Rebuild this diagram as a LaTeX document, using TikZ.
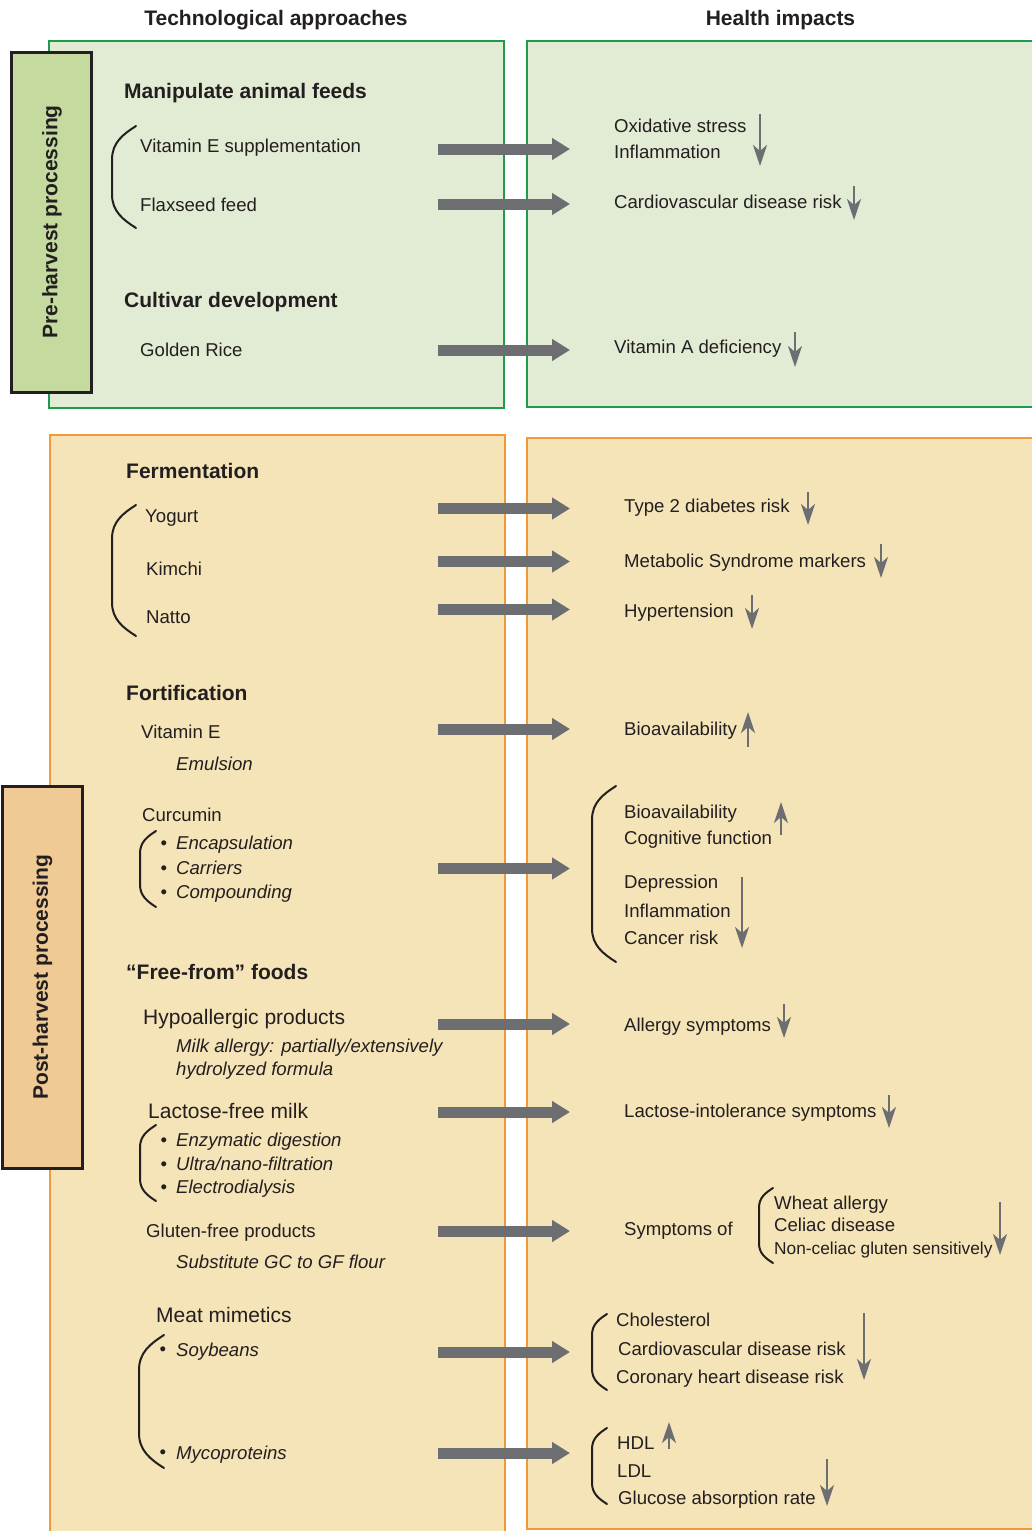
\documentclass[tikz,border=0pt]{standalone}
\usepackage{fontspec}
\setmainfont{Liberation Sans}
\usetikzlibrary{arrows.meta}
\definecolor{gfill}{HTML}{E2EBD3}
\definecolor{gline}{HTML}{1E9B4B}
\definecolor{glab}{HTML}{C5DA9F}
\definecolor{ofill}{HTML}{F4E4B7}
\definecolor{oline}{HTML}{F29A3A}
\definecolor{olab}{HTML}{EFCA95}
\definecolor{agray}{HTML}{6D6E71}
\definecolor{ink}{HTML}{231F20}
\newcommand{\paren}[4]{%
  \pgfmathsetmacro{\pwid}{#1-#2}%
  \pgfmathsetmacro{\pcur}{min(1.4*\pwid,(#4-#3)/2)}%
  \draw[brc] (#1,#3) .. controls ({#1-0.55*\pwid},{#3+0.25*\pcur}) and (#2,{#3+0.5*\pcur}) .. (#2,{#3+\pcur})
    -- (#2,{#4-\pcur}) .. controls (#2,{#4-0.5*\pcur}) and ({#1-0.55*\pwid},{#4-0.25*\pcur}) .. (#1,#4);}
\begin{document}
\begin{tikzpicture}[x=1pt,y=-1pt,
  txt/.style={inner sep=0pt, anchor=west, text height=13.3pt, text depth=0pt,
    font=\fontsize{18.6}{22}\selectfont, text=ink},
  itx/.style={txt, font=\fontsize{18.6}{22}\selectfont\itshape},
  smt/.style={txt, text height=12.4pt, font=\fontsize{17.3}{21}\selectfont},
  bigt/.style={txt, text height=15pt, font=\fontsize{21}{25}\selectfont},
  hd/.style={txt, text height=15pt, font=\fontsize{21}{25}\selectfont\bfseries},
  bul/.style={txt, anchor=center, text height=13.3pt},
  vlab/.style={rotate=90, inner sep=0pt, font=\fontsize{21}{25}\selectfont\bfseries, text=ink},
  gbox/.style={draw=gline, fill=gfill, line width=2pt},
  obox/.style={draw=oline, fill=ofill, line width=2pt},
  labbox/.style={draw=ink, line width=3pt},
  bigarrow/.style={draw=agray, line width=11pt, -{Triangle[length=18pt,width=21pt]}},
  sarrow/.style={draw=agray, line width=2.7pt, -{Stealth[length=21pt,width=14pt,inset=6pt]}},
  brc/.style={draw=ink, line width=2pt, line cap=round},
]
\useasboundingbox (0,0) rectangle (1032,1531);
\clip (0,0) rectangle (1032,1531);

% ---------- boxes ----------
\path[gbox] (49,41) rectangle (504,407.5);
\path[gbox] (527,41) rectangle (1045,407);
\path[obox] (50,435) rectangle (505,1545);
\path[obox] (527,438) rectangle (1045,1529);
\path[labbox, fill=glab] (11,52) rectangle (91,392);
\path[labbox, fill=olab] (2,786) rectangle (82,1168);
\node[vlab] (pre) at (52,222) {Pre-harvest processing};
\node[vlab] (post) at (42.5,977) {Post-harvest processing};

% ---------- headers ----------
\node[hd, anchor=center] (h1) at (276,18) {Technological approaches};
\node[hd, anchor=center] (h2) at (780.5,18) {Health impacts};

% ---------- big arrows ----------
\foreach \i/\yy in {1/149,2/204,3/350,4/508.5,5/561.5,6/609.5,7/729,8/868.5,9/1024,10/1112,11/1231,12/1352,13/1453}{
  \coordinate (s\i) at (438,\yy);
  \coordinate (e\i) at (570,\yy);
  \draw[bigarrow] (s\i) -- (e\i);
}

% ---------- braces ----------
\paren{136}{112}{126}{228}
\paren{136}{112}{505}{636}
\paren{616}{592}{786}{962}
\paren{156}{140}{831}{907}
\paren{156}{140}{1125}{1201}
\paren{164}{139}{1335}{1468}
\paren{773}{759}{1188}{1263}
\paren{607}{592}{1314}{1390}
\paren{607}{592}{1428}{1504}

% ---------- pre-harvest: left ----------
\node[hd] (maf) at (124,91) {Manipulate animal feeds};
\node[txt] (vite) at (140,146) {Vitamin E supplementation};
\node[txt] (flax) at (140,205) {Flaxseed feed};
\node[hd] (cult) at (124,300) {Cultivar development};
\node[txt] (gold) at (140,349.5) {Golden Rice};

% ---------- pre-harvest: right ----------
\node[txt] (oxs) at (614,126) {Oxidative stress};
\node[txt] (infl1) at (614,152) {Inflammation};
\node[txt] (cvd1) at (614,202) {Cardiovascular disease risk};
\node[txt] (vad) at (614,347) {Vitamin A deficiency};
\draw[sarrow] (760,114) -- (760,166);
\draw[sarrow] (854,186) -- (854,220);
\draw[sarrow] (795,332) -- (795,367);

% ---------- post-harvest: left ----------
\node[hd] (ferm) at (126,471) {Fermentation};
\node[txt] (yog) at (145,516) {Yogurt};
\node[txt] (kim) at (146,569) {Kimchi};
\node[txt] (nat) at (146,617) {Natto};
\node[hd] (fort) at (126,693) {Fortification};
\node[txt] (vite2) at (141,732) {Vitamin E};
\node[itx] (emul) at (176,764) {Emulsion};
\node[txt] (curc) at (142,815) {Curcumin};
\node[bul] (b1) at (164,843) {•};
\node[itx] (enc) at (176,843) {Encapsulation};
\node[bul] (b2) at (164,868) {•};
\node[itx] (car) at (176,868) {Carriers};
\node[bul] (b3) at (164,892) {•};
\node[itx] (comp) at (176,892) {Compounding};
\node[hd] (ff) at (126,972) {“Free-from” foods};
\node[bigt] (hypo) at (143,1017) {Hypoallergic products};
\node[itx] (milk) at (176,1046) {Milk allergy: partially/extensively};
\node[itx] (hydr) at (176,1069) {hydrolyzed formula};
\node[bigt] (lfm) at (148,1111) {Lactose-free milk};
\node[bul] (b4) at (164,1140) {•};
\node[itx] (enz) at (176,1140) {Enzymatic digestion};
\node[bul] (b5) at (164,1164) {•};
\node[itx] (ultra) at (176,1164) {Ultra/nano-filtration};
\node[bul] (b6) at (164,1187) {•};
\node[itx] (elec) at (176,1187) {Electrodialysis};
\node[txt] (glut) at (146,1231) {Gluten-free products};
\node[itx] (subs) at (176,1262) {Substitute GC to GF flour};
\node[bigt] (meat) at (156,1315) {Meat mimetics};
\node[bul] (b7) at (163,1349) {•};
\node[itx] (soy) at (176,1350) {Soybeans};
\node[bul] (b8) at (163,1452) {•};
\node[itx] (myco) at (176,1453) {Mycoproteins};

% ---------- post-harvest: right ----------
\node[txt] (t2d) at (624,506) {Type 2 diabetes risk};
\draw[sarrow] (808,492) -- (808,525);
\node[txt] (mets) at (624,561) {Metabolic Syndrome markers};
\draw[sarrow] (881,544) -- (881,578);
\node[txt] (hyp) at (624,611) {Hypertension};
\draw[sarrow] (752,595) -- (752,629);
\node[txt] (bio1) at (624,729) {Bioavailability};
\draw[sarrow] (748,747) -- (748,712);
\node[txt] (bio2) at (624,812) {Bioavailability};
\node[txt] (cog) at (624,838) {Cognitive function};
\draw[sarrow] (781,835) -- (781,802);
\node[txt] (dep) at (624,882) {Depression};
\node[txt] (infl2) at (624,911) {Inflammation};
\node[txt] (canc) at (624,938) {Cancer risk};
\draw[sarrow] (742,877) -- (742,948);
\node[txt] (allg) at (624,1025) {Allergy symptoms};
\draw[sarrow] (784,1004) -- (784,1038);
\node[txt] (lis) at (624,1111) {Lactose-intolerance symptoms};
\draw[sarrow] (889,1095) -- (889,1128);
\node[txt] (symp) at (624,1229) {Symptoms of};
\node[txt] (wheat) at (774,1203) {Wheat allergy};
\node[txt] (celiac) at (774,1225) {Celiac disease};
\node[smt] (ncgs) at (774,1248) {Non-celiac gluten sensitively};
\draw[sarrow] (1000,1202) -- (1000,1255);
\node[txt] (chol) at (616,1320) {Cholesterol};
\node[txt] (cvd2) at (618,1349) {Cardiovascular disease risk};
\node[txt] (chd) at (616,1377) {Coronary heart disease risk};
\draw[sarrow] (864,1313) -- (864,1380);
\node[txt] (hdl) at (617,1443) {HDL};
\draw[sarrow] (669,1449) -- (669,1422);
\node[txt] (ldl) at (617,1471) {LDL};
\node[txt] (gluc) at (618,1498) {Glucose absorption rate};
\draw[sarrow] (827,1459) -- (827,1506);
\end{tikzpicture}
\end{document}
